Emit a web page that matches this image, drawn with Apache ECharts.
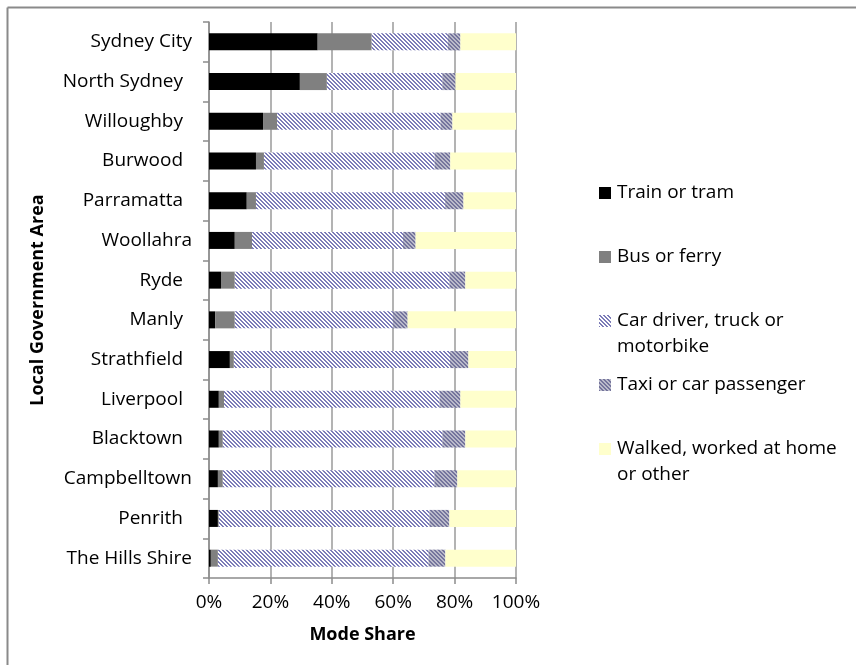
<!DOCTYPE html>
<html>
<head>
<meta charset="utf-8">
<script src="https://cdn.jsdelivr.net/npm/echarts@6/dist/echarts.min.js"></script>
<style>html,body{margin:0;padding:0;background:#fff;}#c{width:856px;height:665px;}</style>
</head>
<body>
<div id="c"></div>
<script>
const categories = ['Sydney City','North Sydney','Willoughby','Burwood','Parramatta','Woollahra','Ryde','Manly','Strathfield','Liverpool','Blacktown','Campbelltown','Penrith','The Hills Shire'];
const seriesNames = ['Train or tram','Bus or ferry','Car driver, truck or motorbike','Taxi or car passenger','Walked, worked at home or other'];
const trainTram = [35.4,29.6,17.6,15.3,12.3,8.4,3.9,2.0,6.8,3.2,3.2,2.9,2.9,0.6];
const busFerry  = [17.6,8.8,4.6,2.6,3.0,5.6,4.5,6.4,1.3,1.7,1.3,1.6,0.3,2.3];
const carDriver = [24.8,37.6,53.2,55.6,61.6,49.2,69.9,51.5,70.4,70.2,71.5,68.9,68.6,68.6];
const taxiPass  = [4.1,4.3,3.9,5.1,6.0,4.1,5.2,4.8,6.0,6.8,7.5,7.5,6.5,5.5];
const walkedOther = [18.1,19.7,20.7,21.4,17.1,32.7,16.5,35.3,15.5,18.1,16.5,19.1,21.7,23.0];
const xTicks = [0,20,40,60,80,100];
// legend text split over two lines as in the reference
const legendFirstLines = ['Train or tram','Bus or ferry','Car driver, truck or','Taxi or car passenger','Walked, worked at home'];
const legendSecondLines = ['', '', 'motorbike', '', 'or other'];

function makePattern(dark, light) {
  const c = document.createElement('canvas');
  c.width = 4; c.height = 4;
  const g = c.getContext('2d');
  for (let y = 0; y < 4; y++) for (let x = 0; x < 4; x++) {
    g.fillStyle = (((x - y) % 4 + 4) % 4) < 2 ? dark : light;
    g.fillRect(x, y, 1, 1);
  }
  return { image: c, repeat: 'repeat' };
}
const carPat = makePattern('#7c7cb8', '#ffffff');
const taxiPat = makePattern('#74749c', '#babaca');

const colors = ['#000000', '#808080', carPat, taxiPat, '#ffffcc'];
const dataArr = [trainTram, busFerry, carDriver, taxiPass, walkedOther];
const legendCenters = [193, 257, 321, 385, 449];
const paddedNames = new Set(['North Sydney','Willoughby','Burwood','Parramatta','Ryde','Manly','Strathfield','Liverpool','Blacktown','Penrith']);

const font = 'Open Sans';
const FS = 19;
const chart = echarts.init(document.getElementById('c'), null, {renderer: 'canvas'});

const graphics = [
  { type: 'line', shape: { x1: 7.5, y1: 7.5, x2: 856, y2: 7.5 }, style: { stroke: '#8a8a8a', lineWidth: 2 } },
  { type: 'line', shape: { x1: 7.5, y1: 7.5, x2: 7.5, y2: 665 }, style: { stroke: '#8a8a8a', lineWidth: 2 } }
];
legendSecondLines.forEach((t, i) => {
  if (!t) return;
  graphics.push({ type: 'text', left: 617, top: legendCenters[i] + 16,
    style: { text: t, font: FS + 'px "' + font + '"', fill: '#000' } });
});

chart.setOption({
  animation: false,
  backgroundColor: '#fff',
  textStyle: { fontFamily: font },
  graphic: graphics,
  legend: seriesNames.map((n, i) => ({
    left: 599, top: legendCenters[i] - 12, orient: 'vertical', padding: 0,
    itemWidth: 12, itemHeight: 12, itemGap: 0,
    icon: 'rect',
    data: [n],
    formatter: () => legendFirstLines[i],
    textStyle: { fontFamily: font, fontSize: FS, color: '#000', lineHeight: 24, padding: [0,0,0,1] }
  })),
  grid: { left: 209, right: 340, top: 22, bottom: 87 },
  xAxis: {
    type: 'value', min: 0, max: 100, interval: 20,
    name: 'Mode Share', nameLocation: 'middle', nameGap: 48,
    nameTextStyle: { fontFamily: font, fontWeight: 'bold', fontSize: 18, color: '#000' },
    axisLine: { show: true, lineStyle: { color: '#8c8c8c', width: 1.5 } },
    axisTick: { show: true, length: 6, lineStyle: { color: '#8c8c8c', width: 1.5 } },
    axisLabel: { formatter: '{value}%', fontFamily: font, fontSize: FS, color: '#000', margin: 15 },
    splitLine: { show: true, lineStyle: { color: '#9a9a9a', width: 1.5 } }
  },
  yAxis: {
    type: 'category', data: categories, inverse: true,
    name: 'Local Government Area', nameLocation: 'middle', nameGap: 162, nameRotate: 90,
    nameTextStyle: { fontFamily: font, fontWeight: 'bold', fontSize: 18, color: '#000' },
    axisLine: { show: true, lineStyle: { color: '#8c8c8c', width: 1.5 } },
    axisTick: { show: true, length: 6, lineStyle: { color: '#8c8c8c', width: 1.5 } },
    axisLabel: {
      fontFamily: font, fontSize: FS, color: '#000', margin: 17,
      formatter: (v) => paddedNames.has(v) ? '{p|' + v + '}' : '{n|' + v + '}',
      rich: {
        p: { fontFamily: font, fontSize: FS, color: '#000', padding: [0, 9, 0, 0] },
        n: { fontFamily: font, fontSize: FS, color: '#000' }
      }
    }
  },
  series: seriesNames.map((n, i) => ({
    name: n, type: 'bar', stack: 'total', barWidth: 17,
    data: dataArr[i],
    itemStyle: { color: colors[i] }
  }))
});
</script>
</body>
</html>
